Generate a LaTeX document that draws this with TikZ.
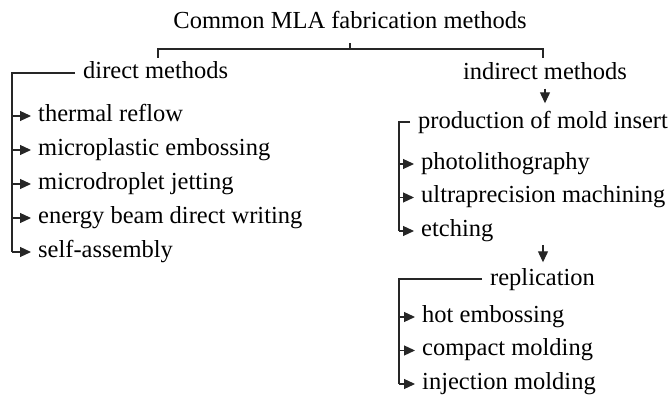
\documentclass[tikz,border=0pt]{standalone}
\usepackage{fontspec}
\setmainfont{Liberation Serif}
\usepackage{tikz}
\usetikzlibrary{arrows.meta,calc}

\begin{document}
\begin{tikzpicture}[x=1pt, y=1pt,
	lbl/.style={font=\fontsize{24.5}{29}\selectfont, inner sep=0pt, text height=17pt, text depth=6pt},
	wire/.style={line width=1.2pt, draw=black!85},
	tip/.style={wire, -{Triangle[length=11pt, width=10pt]}}]

			\def\rowh{34}   % distance between list rows
			\def\gap{7}     % space between arrow tip and text

			\useasboundingbox (0,0) rectangle (671,401);

			% Title and bracket
			\node[lbl] (title) at (350,378) {Common MLA fabrication methods};
			\coordinate (btop) at (350,358);
			\coordinate (bmid) at (350,352);
			\coordinate (bleft) at (158,352);
			\coordinate (bright) at (543,352);

			% Headings
			\node[lbl, anchor=west] (dm) at (83,328) {direct methods};
			\node[lbl] (im) at (545,327) {indirect methods};

			\draw[wire] (btop) -- (bmid);
			\draw[wire] ($(bleft)+(0,-9)$) -- (bleft) -- (bright) -- ($(bright)+(0,-9)$);

			% direct methods list
			\coordinate (dspine) at (12,328);
			\foreach \txt [count=\i] in {thermal reflow, microplastic embossing, microdroplet jetting,
				energy beam direct writing, self-assembly} {
				\pgfmathsetmacro{\yy}{285 - (\i-1)*\rowh}
				\node[lbl, anchor=west] (d\i) at (38,\yy) {\txt};
				\draw[tip, shorten >=\gap] (dspine |- d\i.west) -- (d\i.west);
			}
			\draw[wire, shorten <=8] (dm.west) -- (dspine) -- (dspine |- d5.west);

			% production of mold insert
			\node[lbl, anchor=west] (pm) at (418,278) {production of mold insert};
			\draw[tip, shorten <=3, shorten >=8] (im.south) -- (im.south |- pm.north);
			\coordinate (pspine) at (399,279);
			\foreach \txt [count=\i] in {photolithography, ultraprecision machining, etching} {
				\pgfmathsetmacro{\yy}{237 - (\i-1)*33.5}
				\node[lbl, anchor=west] (p\i) at (421,\yy) {\txt};
				\draw[tip, shorten >=\gap] (pspine |- p\i.west) -- (p\i.west);
			}
			\draw[wire, shorten <=8] (pm.west |- pspine) -- (pspine) -- (pspine |- p3.west);

			% replication
			\node[lbl, anchor=west] (rm) at (490,121) {replication};
			\coordinate (rsrc) at (543,156);
			\draw[tip, shorten >=6] (rsrc) -- (rsrc |- rm.north);
			\coordinate (rspine) at (399,122);
			\foreach \txt [count=\i] in {hot embossing, compact molding, injection molding} {
				\pgfmathsetmacro{\yy}{84 - (\i-1)*33.5}
				\node[lbl, anchor=west] (r\i) at (422,\yy) {\txt};
				\draw[tip, shorten >=\gap] (rspine |- r\i.west) -- (r\i.west);
			}
			\draw[wire, shorten <=8] (rm.west |- rspine) -- (rspine) -- (rspine |- r3.west);

\end{tikzpicture}
\end{document}
